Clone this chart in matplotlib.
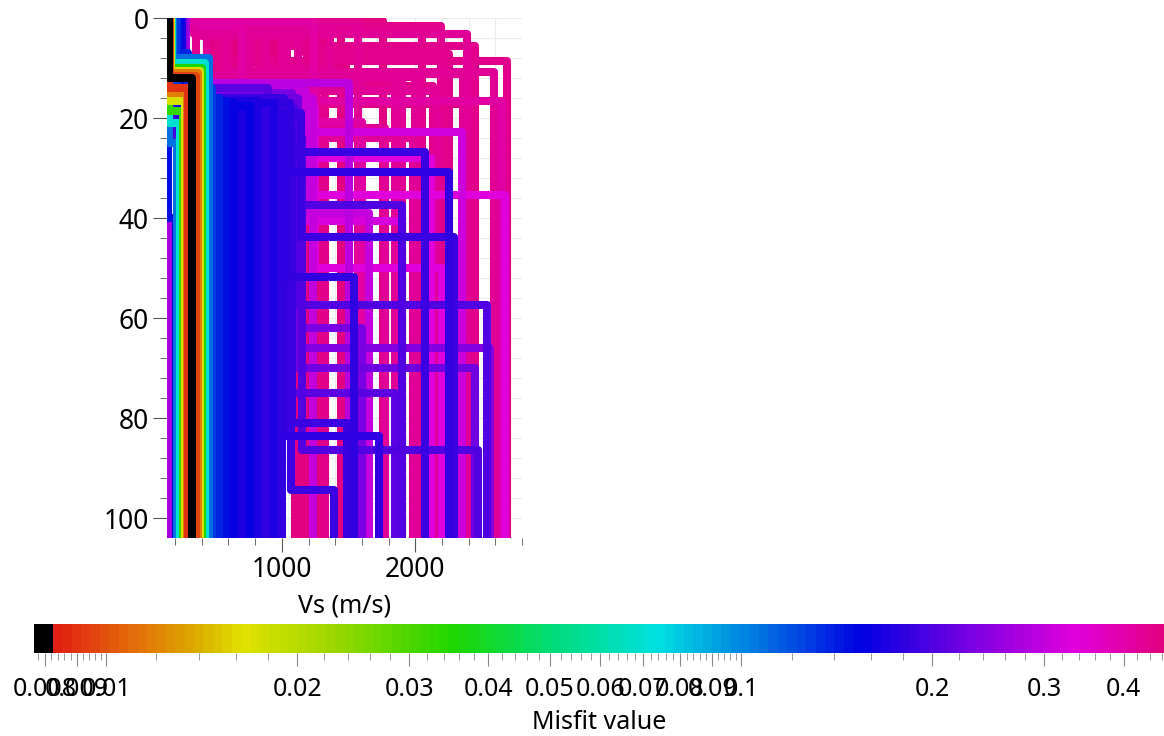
import numpy as np
import matplotlib.pyplot as plt
from matplotlib.colors import LinearSegmentedColormap, LogNorm
from matplotlib.cm import ScalarMappable
from matplotlib.ticker import NullFormatter

plt.rcParams['font.family'] = ['Noto Sans', 'DejaVu Sans']

# Vs profiles: layer velocities (m/s), interface depths (m), misfit
misfits = [
    # pink
    0.45, 0.44, 0.43, 0.44, 0.45, 0.42, 0.44, 0.43,
    0.44, 0.43, 0.45, 0.41, 0.42, 0.44, 0.43, 0.45, 0.42, 0.44, 0.43, 0.44,
    0.41, 0.45, 0.42, 0.46, 0.44, 0.45, 0.43, 0.44,
    # magenta
    0.31, 0.33, 0.30, 0.34, 0.29, 0.32, 0.33, 0.30, 0.27,
    # purple
    0.23, 0.22, 0.24, 0.21, 0.25, 0.27, 0.24,
    # blue-violet
    0.19, 0.18, 0.20, 0.19, 0.18, 0.20, 0.19, 0.18, 0.20, 0.19,
    # blue
    0.14, 0.15, 0.14, 0.15, 0.13, 0.14, 0.15, 0.16, 0.17, 0.16, 0.17, 0.18, 0.17,
    0.18, 0.15,
    # rainbow around the best model
    0.009, 0.012, 0.017, 0.033, 0.07, 0.11,
    0.0095, 0.012, 0.017, 0.035, 0.07, 0.11,
    # best
    0.0078,
]

layer_vs = [
    [300, 1760], [320, 2190], [340, 2390], [360, 2690], [380, 1440], [400, 1570],
    [330, 2050], [440, 1850],
    [310, 520, 2130], [350, 580, 2590], [370, 640, 1260], [390, 700, 1600],
    [420, 760, 2000], [300, 820, 1320], [330, 880, 1980], [350, 940, 1150],
    [380, 1000, 1900], [400, 1060, 2450], [310, 1120, 1770], [360, 1180, 2250],
    [340, 1240, 2650], [390, 1300, 1480], [410, 1360, 2360], [320, 460, 1200],
    [370, 1220, 1320], [350, 720, 1100], [330, 1040, 2160], [300, 600, 2420],
    [175, 1100, 2350], [180, 1200, 2670], [170, 1230], [185, 1050, 2120],
    [170, 1500], [175, 1150, 1900], [180, 1250, 2200], [172, 1180, 1650], [148],
    [178, 1080, 1600], [182, 1120, 2450], [230, 880], [185, 900, 1850], [265, 335],
    [285, 365], [176, 1000, 2560],
    [215, 1020, 2070], [220, 1060, 2255], [225, 1100, 1900], [210, 1140, 2290],
    [230, 1040, 1540], [218, 1120, 2540], [222, 1080, 1490], [228, 1010, 1730],
    [212, 1150, 2470], [235, 1070, 1390],
    [190, 300], [195, 340], [200, 380], [205, 430], [210, 480], [215, 530],
    [220, 580], [225, 640], [230, 700], [235, 760], [240, 820], [245, 880],
    [250, 940], [255, 1000], [150, 210],
    [155, 300], [155, 290], [155, 275], [155, 258], [155, 238], [155, 215],
    [160, 358], [163, 370], [166, 384], [170, 404], [175, 428], [182, 452],
    [155, 328],
]

layer_depths = [
    [0.5], [1.5], [3.2], [8.6], [2.2], [1.0], [1.8], [11.5],
    [2.0, 13.6], [1.2, 10.8], [2.5, 15.8], [1.5, 20.8], [3.0, 11.8], [0.8, 9.5],
    [2.8, 24.0], [1.6, 18.0], [2.3, 12.0], [3.5, 5.5], [1.1, 22.0], [2.6, 7.2],
    [0.7, 16.5], [1.9, 9.5], [2.1, 11.2], [1.4, 19.0], [3.0, 23.0], [2.4, 25.5],
    [1.3, 14.6], [0.9, 17.2],
    [15, 22.8], [17, 35.4], [16], [14, 28.0], [13], [16, 40.5], [18, 50.0],
    [14.5, 39.0], [],
    [15, 62.0], [16, 70.0], [15.5], [14, 75.0], [8.0], [10.0], [15.5, 66.0],
    [16, 26.8], [17, 30.8], [18, 37.4], [19, 43.8], [20, 51.8], [21, 57.4],
    [22, 81.0], [23, 83.5], [24, 86.4], [18.5, 94.4],
    [7.0], [8.5], [10.0], [12.0], [14.0], [16.0], [16.5], [17.0], [18.0], [17.5],
    [16.5], [18.5], [17.0], [19.0], [40.0],
    [14.0], [15.0], [16.5], [18.5], [21.0], [25.0],
    [11.5], [11.0], [10.5], [10.0], [9.0], [8.0],
    [12.0],
]

# Geopsy-like misfit palette
cmap = LinearSegmentedColormap.from_list('misfit', [
    (0.0, '#000000'), (0.0105, '#000000'), (0.0115, '#e11914'),
    (0.085, '#e36e0a'), (0.14, '#dcaa00'), (0.182, '#e1e100'),
    (0.27, '#96d700'), (0.37, '#1ed700'), (0.46, '#00dc78'),
    (0.551, '#00e1e1'), (0.64, '#0078e1'), (0.734, '#0000e1'),
    (0.83, '#7800e1'), (0.926, '#e100dc'), (1.0, '#e10082'),
], N=120)
norm = LogNorm(vmin=0.0077, vmax=0.463)

fig = plt.figure(figsize=(11.64, 7.36), dpi=100)
ax = fig.add_axes([0.1435, 0.269, 0.305, 0.7065])

order = np.argsort(misfits, kind='stable')[::-1]
for k in order:
    vs = layer_vs[k]
    d = [0] + layer_depths[k] + [110]
    xs, ys = [], []
    for i, v in enumerate(vs):
        xs += [v, v]
        ys += [d[i], d[i + 1]]
    ax.plot(xs, ys, color=cmap(norm(misfits[k])), lw=5.8,
            solid_joinstyle='round', solid_capstyle='butt', zorder=2)

ax.set_xlim(140, 2800)
ax.set_ylim(104, 0)
ax.set_xticks([1000, 2000])
ax.set_xticks(np.arange(200, 2801, 200), minor=True)
ax.set_yticks([0, 20, 40, 60, 80, 100])
ax.set_yticks(np.arange(0, 104, 4), minor=True)
ax.tick_params(which='major', length=10, color='#555555', labelsize=19, pad=3)
ax.tick_params(which='minor', length=5, color='#555555')
ax.grid(True, which='both', color='#ececec', lw=0.8, zorder=0)
ax.set_axisbelow(True)
for s in ax.spines.values():
    s.set_visible(False)
ax.set_xlabel('Vs (m/s)', fontsize=18, labelpad=7)

# colour scale
cax = fig.add_axes([0.0292, 0.1128, 0.9708, 0.0394])
cb = fig.colorbar(ScalarMappable(norm=norm, cmap=cmap), cax=cax,
                  orientation='horizontal')
cb.outline.set_visible(False)
major = [0.008, 0.009, 0.01, 0.02, 0.03, 0.04, 0.05, 0.06, 0.07, 0.08, 0.09,
         0.1, 0.2, 0.3, 0.4]
minor = np.concatenate([np.arange(0.0078, 0.01, 0.0002), np.arange(0.012, 0.1, 0.002),
                        np.arange(0.12, 0.463, 0.02)])
cax.xaxis.set_major_locator(plt.FixedLocator(major))
cax.xaxis.set_minor_locator(plt.FixedLocator(minor))
cax.xaxis.set_minor_formatter(NullFormatter())
cax.set_xticklabels([f'{t:g}' for t in major])
cax.tick_params(which='major', length=9, color='#888888', labelsize=18, pad=8)
cax.tick_params(which='minor', length=5, color='#888888')
cax.set_xlabel('Misfit value', fontsize=18, labelpad=6)

fig.savefig('out.png', dpi=100)
